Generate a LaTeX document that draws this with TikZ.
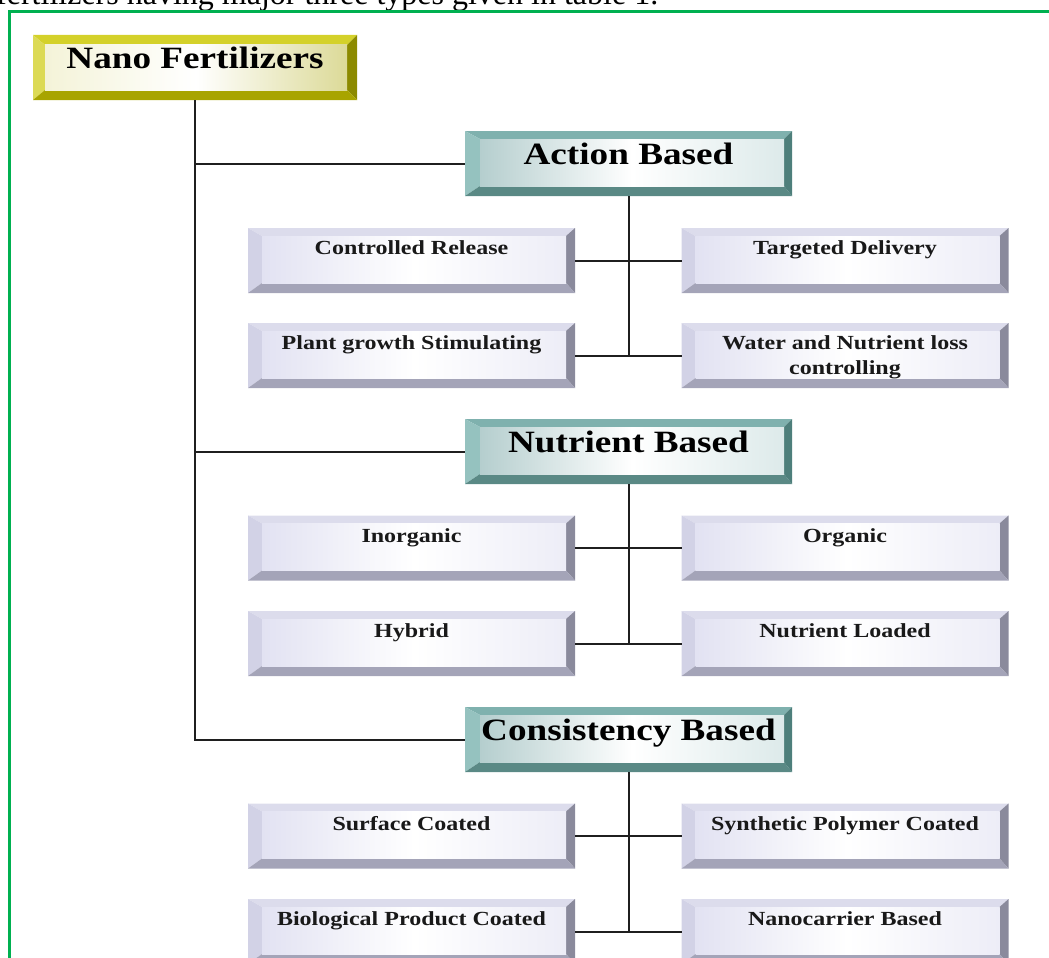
\documentclass[tikz,border=0pt]{standalone}
\usepackage{fontspec}
\setmainfont{Liberation Serif}
\newfontfamily\widefont{Liberation Serif}[FakeStretch=1.2]
\usetikzlibrary{calc}
\definecolor{frameGreen}{HTML}{00B050}
% yellow scheme
\definecolor{yT}{HTML}{D4D12A}
\definecolor{yL}{HTML}{DCDA55}
\definecolor{yR}{HTML}{8C8A00}
\definecolor{yB}{HTML}{A8A400}
\definecolor{yF1}{HTML}{F4F3D8}
\definecolor{yF2}{HTML}{DCDA98}
% teal scheme
\definecolor{tT}{HTML}{7FB1AE}
\definecolor{tL}{HTML}{95C2BF}
\definecolor{tR}{HTML}{4E7F7B}
\definecolor{tB}{HTML}{5A8985}
\definecolor{tF1}{HTML}{B5CECE}
\definecolor{tF2}{HTML}{DDEAEA}
% lavender scheme
\definecolor{lT}{HTML}{DCDCEC}
\definecolor{lL}{HTML}{D2D2E6}
\definecolor{lR}{HTML}{8A8A9C}
\definecolor{lB}{HTML}{A4A4B8}
\definecolor{lF1}{HTML}{E2E2F2}
\definecolor{lF2}{HTML}{EDEDF7}
\newcommand\mybevel{%
  \path (path picture bounding box.north west) coordinate (pNW)
        (path picture bounding box.south east) coordinate (pSE);
  \path (pNW -| pSE) coordinate (pNE) (pNW |- pSE) coordinate (pSW);
  \path ($(pNW)+(\bvL,-\bvT)$) coordinate (iNW)
        ($(pNE)+(-\bvR,-\bvT)$) coordinate (iNE)
        ($(pSE)+(-\bvR,\bvB)$) coordinate (iSE)
        ($(pSW)+(\bvL,\bvB)$) coordinate (iSW);
  \fill[bT] (pNW) -- (pNE) -- (iNE) -- (iNW) -- cycle;
  \fill[bL] (pNW) -- (iNW) -- (iSW) -- (pSW) -- cycle;
  \fill[bR] (pNE) -- (pSE) -- (iSE) -- (iNE) -- cycle;
  \fill[bB] (pSW) -- (iSW) -- (iSE) -- (pSE) -- cycle;
  \shade[left color=bF1, right color=bF2, middle color=white] (iNW) rectangle (iSE);
}
\tikzset{
  bvbase/.style={inner sep=0pt, outer sep=0pt, minimum width=327pt,
    minimum height=65pt, path picture={\mybevel}},
  yel/.style={bvbase, minimum width=324pt, /utils/exec={%
    \colorlet{bT}{yT}\colorlet{bL}{yL}\colorlet{bR}{yR}\colorlet{bB}{yB}%
    \colorlet{bF1}{yF1}\colorlet{bF2}{yF2}%
    \def\bvL{12pt}\def\bvT{10pt}\def\bvR{10pt}\def\bvB{10pt}}},
  teal/.style={bvbase, /utils/exec={%
    \colorlet{bT}{tT}\colorlet{bL}{tL}\colorlet{bR}{tR}\colorlet{bB}{tB}%
    \colorlet{bF1}{tF1}\colorlet{bF2}{tF2}%
    \def\bvL{15pt}\def\bvT{8pt}\def\bvR{8pt}\def\bvB{10pt}}},
  lav/.style={bvbase, /utils/exec={%
    \colorlet{bT}{lT}\colorlet{bL}{lL}\colorlet{bR}{lR}\colorlet{bB}{lB}%
    \colorlet{bF1}{lF1}\colorlet{bF2}{lF2}%
    \def\bvL{14pt}\def\bvT{8pt}\def\bvR{9pt}\def\bvB{10pt}}},
  head/.style={font=\widefont\bfseries\fontsize{31}{34}\selectfont,
    inner sep=0pt, anchor=north, yshift=-11.5pt, text=black},
  sub/.style={font=\widefont\bfseries\fontsize{20}{25}\selectfont,
    inner sep=0pt, anchor=north, yshift=-12.5pt, align=center, text=black!90},
  conn/.style={line width=2pt, draw=black!88},
}
\begin{document}
\begin{tikzpicture}[x=1pt,y=-1pt]
\useasboundingbox (0,0) rectangle (1049,958);
\clip (0,0) rectangle (1049,958);
\node[anchor=base west, inner sep=0pt, font=\fontsize{32}{36}\selectfont] (intro) at (-4,5)
  {fertilizers having major three types given in table 1.};
\draw[frameGreen, line width=3pt] (9.5,11.5) rectangle (1070,1000);

\node[yel, label={[head, yshift=-0.5pt]north:Nano Fertilizers}] (nano) at (195,67.5) {};

\node[teal, label={[head]north:Action Based}] (act) at (628.5,163.5) {};
\node[lav, label={[sub]north:Controlled Release}] (a1L) at (411.5,260.5) {};
\node[lav, label={[sub]north:Targeted Delivery}] (a1R) at (845,260.5) {};
\node[lav, label={[sub]north:Plant growth Stimulating}] (a2L) at (411.5,355.5) {};
\node[lav, label={[sub]north:Water and Nutrient loss\\controlling}] (a2R) at (845,355.5) {};

\node[teal, label={[head]north:Nutrient Based}] (nut) at (628.5,451.5) {};
\node[lav, label={[sub]north:Inorganic}] (n1L) at (411.5,548) {};
\node[lav, label={[sub]north:Organic}] (n1R) at (845,548) {};
\node[lav, label={[sub]north:Hybrid}] (n2L) at (411.5,643.5) {};
\node[lav, label={[sub]north:Nutrient Loaded}] (n2R) at (845,643.5) {};

\node[teal, label={[head]north:Consistency Based}] (cons) at (628.5,739.5) {};
\node[lav, label={[sub]north:Surface Coated}] (c1L) at (411.5,836) {};
\node[lav, label={[sub]north:Synthetic Polymer Coated}] (c1R) at (845,836) {};
\node[lav, label={[sub]north:Biological Product Coated}] (c2L) at (411.5,931.5) {};
\node[lav, label={[sub]north:Nanocarrier Based}] (c2R) at (845,931.5) {};

% trunk
\draw[conn] (nano.south) -- (nano.south |- cons.west) -- (cons.west);
\draw[conn] (nano.south |- act.west) -- (act.west);
\draw[conn] (nano.south |- nut.west) -- (nut.west);
% action group
\draw[conn] (act.south) -- (act.south |- a2L.east);
\draw[conn] (a1L.east) -- (a1R.west);
\draw[conn] (a2L.east) -- (a2R.west);
% nutrient group
\draw[conn] (nut.south) -- (nut.south |- n2L.east);
\draw[conn] (n1L.east) -- (n1R.west);
\draw[conn] (n2L.east) -- (n2R.west);
% consistency group
\draw[conn] (cons.south) -- (cons.south |- c2L.east);
\draw[conn] (c1L.east) -- (c1R.west);
\draw[conn] (c2L.east) -- (c2R.west);
\end{tikzpicture}
\end{document}
